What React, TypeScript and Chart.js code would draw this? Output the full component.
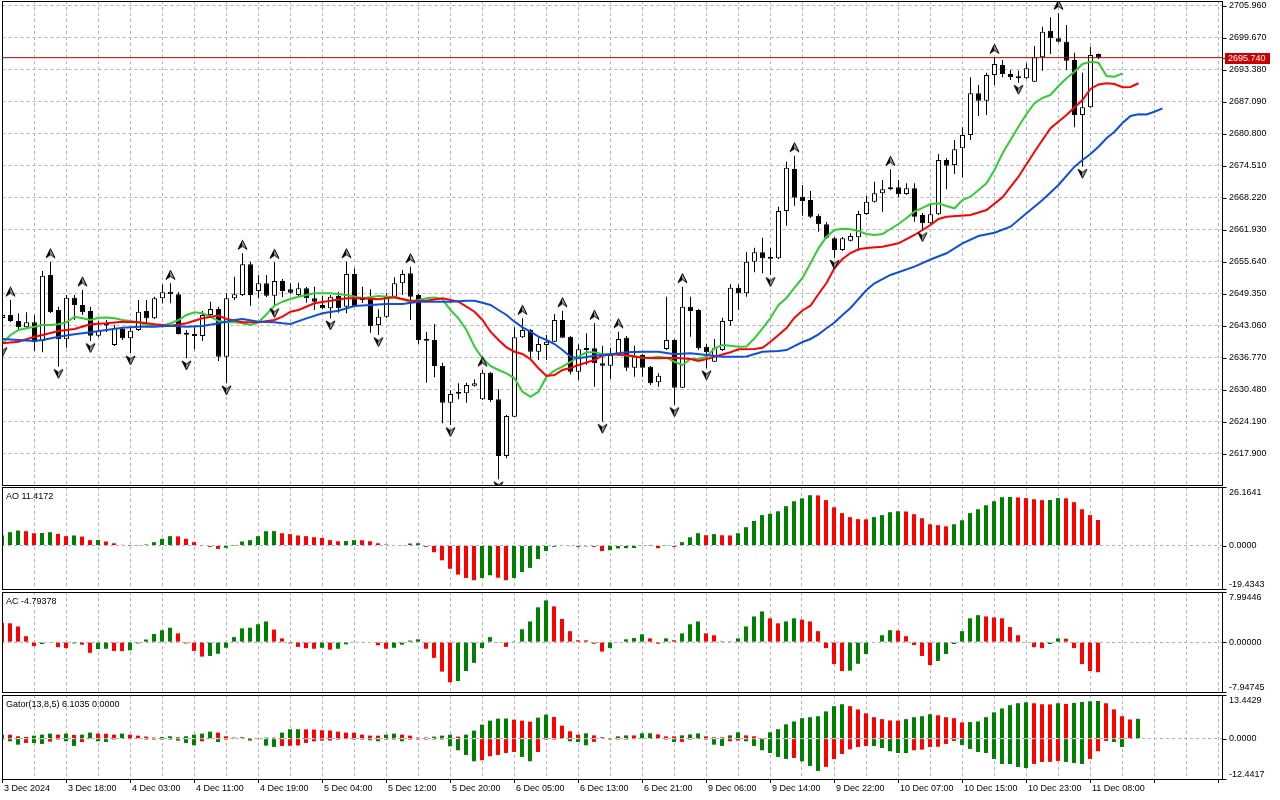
import React, { useEffect, useRef } from 'react';
import { Chart, registerables } from 'chart.js';

Chart.register(...registerables);

const FONT = '"Liberation Sans", Arial, sans-serif';
const GRID = '#b8b2c0';
const BAR_GREEN = '#008000';
const BAR_RED = '#ff0000';
const LIPS_COLOR = '#32cd32';
const TEETH_COLOR = '#ff0000';
const JAW_COLOR = '#0c50dc';

// ---------- price data (H1 candles) ----------
const OPEN = [2644.57, 2645.16, 2643.99, 2642.75, 2643.73, 2640.06, 2653.03, 2646.15, 2640.39, 2648.56,
  2647.13, 2645.95, 2641.10, 2643.10, 2639.27, 2642.41, 2640.58, 2642.22, 2645.95, 2644.52,
  2648.45, 2649.74, 2649.23, 2641.43, 2641.43, 2641.04, 2645.16, 2646.34, 2636.97, 2648.45,
  2649.09, 2655.13, 2649.88, 2651.39, 2648.96, 2651.85, 2650.21, 2649.09, 2650.41, 2648.45,
  2647.13, 2646.48, 2648.90, 2646.79, 2653.22, 2648.70, 2648.64, 2643.20, 2644.83, 2648.76,
  2651.39, 2653.36, 2649.09, 2640.39, 2640.25, 2635.14, 2627.93, 2629.70, 2629.77, 2631.27,
  2628.59, 2633.82, 2628.59, 2617.45, 2625.17, 2640.78, 2642.22, 2637.95, 2639.27, 2639.92,
  2644.18, 2640.90, 2634.02, 2638.62, 2638.62, 2635.67, 2635.20, 2637.30, 2640.70, 2634.81,
  2637.30, 2635.00, 2631.93, 2638.48, 2640.25, 2630.87, 2646.79, 2646.15, 2638.93, 2635.99,
  2638.28, 2643.99, 2650.53, 2649.43, 2655.64, 2657.49, 2656.37, 2656.31, 2665.61, 2673.86,
  2668.42, 2667.77, 2664.68, 2662.99, 2660.24, 2657.94, 2659.77, 2660.44, 2665.02, 2667.43,
  2669.08, 2669.87, 2670.26, 2668.95, 2670.07, 2664.82, 2663.19, 2664.96, 2675.63, 2674.65,
  2677.93, 2680.55, 2688.74, 2687.29, 2692.34, 2694.30, 2692.53, 2692.00, 2691.69, 2691.02,
  2695.82, 2701.05, 2699.55, 2698.88, 2695.29, 2684.48, 2685.99, 2696.47];

const HIGH = [2645.56, 2648.11, 2645.50, 2645.69, 2645.16, 2653.81, 2655.64, 2646.79, 2649.09, 2649.09,
  2650.08, 2646.79, 2643.99, 2644.18, 2643.20, 2642.81, 2642.81, 2648.11, 2648.11, 2648.76,
  2651.20, 2651.39, 2649.69, 2642.22, 2642.86, 2645.95, 2647.78, 2646.79, 2649.43, 2652.69,
  2657.29, 2655.58, 2653.03, 2653.03, 2655.52, 2652.24, 2651.39, 2651.51, 2650.67, 2650.73,
  2648.90, 2649.09, 2649.74, 2655.64, 2654.34, 2650.73, 2650.21, 2646.29, 2649.43, 2652.57,
  2654.01, 2654.66, 2649.29, 2641.88, 2643.40, 2635.79, 2630.42, 2631.74, 2631.86, 2632.53,
  2634.35, 2633.96, 2630.56, 2625.51, 2642.75, 2644.52, 2642.41, 2640.78, 2641.23, 2645.36,
  2646.01, 2641.04, 2639.40, 2641.57, 2643.53, 2639.13, 2638.73, 2641.88, 2641.04, 2639.13,
  2637.50, 2635.14, 2633.70, 2648.76, 2640.45, 2650.73, 2648.76, 2646.34, 2639.46, 2640.45,
  2644.63, 2651.20, 2651.20, 2657.49, 2658.39, 2660.36, 2658.27, 2666.45, 2675.30, 2676.48,
  2670.72, 2669.54, 2665.02, 2663.44, 2660.50, 2660.50, 2661.22, 2665.67, 2668.55, 2671.37,
  2671.70, 2673.80, 2671.70, 2671.05, 2671.05, 2665.21, 2666.79, 2676.81, 2676.02, 2679.56,
  2682.06, 2691.89, 2690.37, 2692.79, 2695.82, 2695.29, 2693.32, 2693.18, 2694.64, 2698.04,
  2701.83, 2703.68, 2704.47, 2702.17, 2696.72, 2692.79, 2697.90, 2696.56];

const LOW = [2639.27, 2643.79, 2642.41, 2642.41, 2638.09, 2637.83, 2645.56, 2634.97, 2638.73, 2644.18,
  2645.16, 2640.06, 2640.84, 2641.82, 2639.07, 2640.25, 2637.63, 2642.02, 2643.59, 2644.38,
  2647.46, 2647.46, 2641.33, 2636.65, 2638.42, 2640.06, 2644.97, 2636.12, 2631.74, 2648.11,
  2648.90, 2646.99, 2648.45, 2648.70, 2646.93, 2648.70, 2649.29, 2648.90, 2647.58, 2646.15,
  2646.34, 2644.52, 2645.62, 2645.50, 2646.74, 2647.52, 2641.68, 2641.23, 2644.57, 2648.60,
  2649.09, 2644.18, 2639.46, 2631.86, 2632.92, 2623.88, 2623.54, 2628.59, 2627.93, 2631.11,
  2628.46, 2628.06, 2612.87, 2617.00, 2625.11, 2640.64, 2636.71, 2636.32, 2636.32, 2639.86,
  2640.64, 2633.51, 2632.39, 2635.34, 2631.07, 2624.19, 2632.59, 2637.10, 2634.16, 2633.04,
  2633.04, 2631.40, 2631.07, 2638.28, 2627.47, 2630.82, 2640.90, 2638.28, 2634.69, 2635.93,
  2638.09, 2643.06, 2646.15, 2648.76, 2653.56, 2653.36, 2653.03, 2656.17, 2662.72, 2666.65,
  2664.68, 2664.23, 2661.54, 2660.10, 2656.43, 2657.74, 2659.61, 2657.80, 2664.82, 2667.28,
  2665.47, 2669.67, 2668.30, 2668.75, 2663.50, 2661.87, 2663.05, 2664.82, 2669.87, 2672.88,
  2672.23, 2679.56, 2684.28, 2684.48, 2690.37, 2691.89, 2691.35, 2690.82, 2691.55, 2690.96,
  2693.18, 2696.47, 2698.73, 2693.32, 2682.06, 2674.31, 2685.85, 2695.42];

const CLOSE = [2645.16, 2643.99, 2642.75, 2643.73, 2639.80, 2652.89, 2645.69, 2640.39, 2648.56, 2647.13,
  2645.69, 2641.10, 2642.02, 2643.20, 2642.67, 2640.58, 2642.08, 2645.81, 2644.52, 2648.45,
  2649.63, 2649.23, 2641.43, 2641.27, 2641.04, 2645.16, 2646.34, 2636.97, 2648.45, 2649.23,
  2655.13, 2649.09, 2651.39, 2648.96, 2651.85, 2649.88, 2649.55, 2650.41, 2648.45, 2647.78,
  2646.48, 2648.76, 2646.48, 2653.22, 2646.93, 2648.11, 2643.00, 2644.83, 2648.76, 2651.39,
  2653.22, 2648.76, 2640.25, 2640.11, 2635.14, 2627.93, 2629.64, 2629.83, 2631.40, 2631.74,
  2633.82, 2628.46, 2617.45, 2625.31, 2640.78, 2642.22, 2637.95, 2639.46, 2639.92, 2644.18,
  2640.70, 2634.02, 2638.42, 2638.28, 2635.67, 2635.20, 2637.30, 2640.45, 2634.81, 2636.97,
  2634.81, 2631.74, 2633.23, 2640.25, 2630.87, 2646.79, 2645.95, 2638.62, 2637.83, 2638.62,
  2643.99, 2650.53, 2649.43, 2655.64, 2657.49, 2656.31, 2656.21, 2665.61, 2674.12, 2668.22,
  2667.57, 2664.49, 2662.99, 2660.36, 2657.94, 2660.24, 2660.69, 2665.02, 2667.43, 2669.08,
  2669.87, 2670.26, 2668.89, 2670.07, 2664.49, 2663.19, 2664.96, 2675.63, 2674.51, 2677.73,
  2680.55, 2688.74, 2687.29, 2692.34, 2694.50, 2692.53, 2691.89, 2691.69, 2693.66, 2695.82,
  2700.85, 2699.55, 2698.88, 2695.15, 2684.48, 2685.99, 2696.27, 2695.74];

const CURRENT_PRICE = 2695.74;

// Alligator lines: [bar, price]
const LIPS: [number, number][] = [[0, 2639.60], [1, 2641.23], [2, 2642.22], [3, 2642.55], [4, 2642.86], [5, 2643.20],
  [6, 2643.20], [7, 2643.33], [8, 2643.73], [9, 2644.83], [10, 2644.51], [11, 2644.18], [12, 2644.63], [13, 2644.67],
  [14, 2644.51], [15, 2644.18], [16, 2643.98], [17, 2643.73], [18, 2643.20], [19, 2643.06], [20, 2643.06],
  [21, 2643.53], [22, 2644.18], [23, 2645.16], [24, 2645.69], [25, 2645.50], [26, 2644.83], [27, 2643.98],
  [28, 2643.73], [29, 2643.73], [30, 2643.53], [31, 2643.20], [32, 2643.73], [33, 2645.30], [34, 2646.99],
  [35, 2647.78], [36, 2648.31], [37, 2648.76], [39, 2649.43], [41, 2649.43], [43, 2649.09], [45, 2648.45],
  [47, 2648.90], [49, 2648.64], [51, 2647.78], [53, 2648.45], [54, 2648.60], [55, 2648.25], [56, 2646.15],
  [57, 2644.51], [58, 2642.22], [59, 2638.93], [60, 2636.65], [61, 2635.14], [62, 2634.35], [63, 2633.70],
  [64, 2632.72], [65, 2630.09], [66, 2629.10], [67, 2630.09], [68, 2633.04], [69, 2634.22], [70, 2635.00],
  [71, 2635.93], [72, 2636.97], [73, 2637.83], [74, 2637.83], [75, 2637.44], [76, 2637.44], [77, 2637.44],
  [78, 2637.16], [79, 2636.97], [80, 2636.77], [81, 2636.77], [82, 2636.97], [83, 2636.77], [84, 2635.98],
  [85, 2635.34], [86, 2636.51], [87, 2636.51], [88, 2636.97], [89, 2638.62], [90, 2639.27], [91, 2639.13],
  [92, 2638.93], [93, 2638.97], [94, 2640.58], [95, 2642.55], [96, 2644.57], [97, 2647.13], [98, 2648.51],
  [99, 2650.53], [100, 2652.44], [101, 2655.33], [102, 2658.27], [103, 2660.55], [104, 2661.87], [105, 2662.13],
  [106, 2662.01], [107, 2661.67], [108, 2661.08], [109, 2660.89], [110, 2661.08], [111, 2662.07], [112, 2663.05],
  [113, 2664.23], [114, 2665.47], [115, 2666.20], [116, 2666.98], [117, 2667.12], [118, 2666.59], [119, 2666.14],
  [120, 2667.77], [121, 2668.42], [122, 2669.73], [123, 2671.05], [124, 2673.66], [125, 2676.95], [126, 2679.56],
  [127, 2682.18], [128, 2684.67], [129, 2686.78], [130, 2687.82], [131, 2688.41], [132, 2690.18], [133, 2691.69],
  [134, 2692.99], [135, 2694.50], [136, 2694.95], [137, 2694.76], [138, 2692.14], [139, 2692.00], [140, 2692.67]];

const TEETH: [number, number][] = [[0, 2639.60], [2, 2639.92], [4, 2640.90], [5, 2641.23], [7, 2642.02], [9, 2642.41],
  [11, 2643.33], [13, 2643.53], [15, 2643.85], [17, 2643.73], [19, 2643.33], [21, 2643.06], [23, 2643.53],
  [25, 2644.51], [27, 2645.07], [28, 2644.38], [30, 2643.73], [32, 2643.73], [34, 2644.18], [35, 2644.83],
  [36, 2645.81], [37, 2646.15], [39, 2647.46], [41, 2647.98], [43, 2648.45], [45, 2648.45], [47, 2648.25],
  [49, 2648.64], [51, 2647.98], [53, 2647.98], [55, 2648.45], [57, 2647.78], [59, 2645.81], [60, 2644.18],
  [61, 2641.88], [62, 2640.25], [63, 2638.81], [64, 2637.95], [65, 2637.50], [66, 2636.46], [67, 2634.69],
  [68, 2633.17], [69, 2633.37], [70, 2634.35], [71, 2634.75], [72, 2635.34], [74, 2636.32], [75, 2637.16],
  [76, 2637.44], [78, 2637.30], [80, 2636.77], [82, 2636.65], [84, 2636.77], [86, 2636.51], [87, 2636.12],
  [88, 2636.51], [89, 2636.97], [91, 2637.83], [92, 2638.42], [94, 2638.48], [95, 2638.74], [96, 2639.92],
  [97, 2641.23], [98, 2642.61], [99, 2644.63], [100, 2646.05], [101, 2646.99], [102, 2649.29], [103, 2651.45],
  [104, 2654.40], [105, 2656.17], [106, 2657.35], [107, 2658.08], [108, 2658.33], [110, 2658.59], [112, 2659.26],
  [114, 2660.89], [115, 2661.87], [116, 2662.85], [117, 2664.03], [118, 2664.49], [121, 2664.82], [123, 2665.80],
  [125, 2668.30], [127, 2672.35], [129, 2677.26], [131, 2681.86], [133, 2684.48], [135, 2687.42], [136, 2689.59],
  [137, 2690.47], [138, 2690.71], [139, 2690.57], [140, 2689.92], [141, 2689.98], [142, 2690.71]];

const JAW: [number, number][] = [[0, 2640.45], [2, 2640.25], [4, 2640.05], [5, 2640.25], [7, 2640.90], [9, 2641.37],
  [11, 2641.76], [13, 2642.22], [15, 2642.67], [17, 2642.86], [19, 2642.86], [21, 2643.06], [23, 2642.86],
  [25, 2643.00], [27, 2643.53], [29, 2644.18], [30, 2644.38], [32, 2643.85], [34, 2643.73], [35, 2643.53],
  [36, 2643.39], [38, 2644.51], [40, 2645.50], [42, 2646.01], [44, 2646.93], [46, 2647.13], [48, 2647.33],
  [50, 2647.33], [52, 2647.78], [54, 2647.78], [56, 2647.78], [58, 2647.98], [59, 2647.98], [60, 2647.58],
  [61, 2647.13], [62, 2646.15], [63, 2645.16], [64, 2643.85], [65, 2642.75], [66, 2641.88], [67, 2640.90],
  [68, 2640.25], [69, 2639.46], [70, 2638.28], [71, 2636.97], [72, 2636.65], [74, 2637.16], [76, 2637.44],
  [78, 2637.83], [80, 2637.95], [82, 2637.95], [84, 2637.44], [86, 2637.64], [88, 2637.30], [90, 2636.97],
  [92, 2636.97], [93, 2637.01], [95, 2637.95], [97, 2638.09], [98, 2638.28], [100, 2639.86], [101, 2640.45],
  [102, 2641.37], [103, 2642.55], [104, 2643.69], [105, 2645.16], [106, 2646.54], [108, 2650.08], [109, 2651.39],
  [111, 2653.03], [114, 2654.66], [116, 2656.07], [118, 2657.29], [120, 2659.26], [122, 2660.69], [124, 2661.34],
  [126, 2662.52], [128, 2665.15], [130, 2667.77], [132, 2670.72], [134, 2674.31], [135, 2675.63], [136, 2676.81],
  [137, 2678.24], [138, 2679.90], [139, 2681.19], [140, 2682.90], [141, 2684.28], [142, 2684.61], [143, 2684.57],
  [144, 2685.12], [145, 2685.79]];

const UP_FRACTALS = [1, 6, 10, 21, 30, 34, 43, 51, 60, 65, 70, 74, 77, 85, 99, 111, 124, 132];
const DOWN_FRACTALS = [0, 7, 11, 16, 23, 28, 34, 41, 47, 56, 62, 75, 84, 88, 96, 104, 115, 127, 135];

// ---------- indicator data ----------
const AO = [4.47, 5.96, 6.71, 6.41, 5.51, 5.6, 5.96, 5.2, 4.2, 4.5,
  4.0, 2.4, 2.45, 1.8, 1.0, 0.3, 0.05, -0.1, 0.45, 1.5,
  3.0, 4.2, 4.1, 3.0, 1.5, 0.15, -0.6, -1.5, -1.0, 0.05,
  1.8, 2.4, 4.2, 6.4, 6.45, 5.5, 5.1, 4.5, 4.2, 3.7,
  3.4, 2.4, 1.9, 2.0, 2.4, 2.35, 1.9, 1.0, 0.45, 0.0,
  0.15, 0.9, 1.05, -0.6, -3.0, -6.6, -10.4, -13.0, -14.5, -15.5,
  -14.5, -13.3, -14.4, -15.5, -14.5, -11.9, -10.0, -6.0, -2.5, -0.6,
  -0.2, -0.3, -0.6, -0.4, -0.6, -2.5, -2.1, -1.3, -1.2, -1.1,
  -0.1, -0.05, -1.2, -0.1, -0.6, 1.5, 3.7, 5.5, 4.6, 5.1,
  4.6, 4.5, 5.5, 8.2, 11.0, 13.6, 14.2, 15.3, 17.6, 19.8,
  21.1, 22.5, 22.4, 20.3, 17.1, 14.5, 12.7, 11.8, 11.7, 12.7,
  13.6, 14.9, 15.3, 15.2, 14.0, 12.2, 9.5, 9.1, 8.6, 9.5,
  11.3, 14.5, 16.2, 18.0, 19.8, 21.6, 21.7, 21.5, 21.2, 20.7,
  20.3, 20.35, 21.2, 21.1, 19.4, 16.2, 13.6, 11.4172];

const AC = [3.06, 3.0, 2.5, 0.95, -0.63, -0.3, -0.1, -0.8, -0.95, -0.2,
  -0.4, -1.7, -1.1, -1.05, -1.4, -1.42, -1.3, -0.2, 0.42, 1.3,
  1.9, 2.3, 1.4, -0.2, -1.4, -2.3, -2.2, -1.85, -0.9, 0.8,
  2.2, 2.3, 2.85, 3.3, 2.0, 0.6, -0.2, -0.75, -0.95, -1.05,
  -0.9, -1.2, -1.05, -0.35, 0.05, 0.1, 0.0, -0.5, -1.05, -0.9,
  -0.4, 0.25, 0.45, -1.05, -2.5, -4.7, -6.4, -6.2, -4.6, -3.3,
  -0.95, 0.8, -0.05, -0.75, 0.05, 2.05, 3.3, 5.55, 6.65, 5.7,
  3.7, 1.75, 0.3, 0.28, -0.25, -1.5, -0.95, 0.1, 0.45, 0.65,
  1.25, 0.6, -0.25, 0.6, 0.3, 1.4, 2.85, 3.3, 1.4, 1.1,
  0.15, 0.02, 0.6, 2.5, 4.1, 4.9, 3.8, 3.0, 3.3, 3.8,
  3.6, 3.3, 1.75, -0.95, -3.5, -4.6, -4.55, -3.45, -1.9, 0.0,
  1.1, 1.9, 1.85, 0.95, -0.45, -2.2, -3.65, -3.0, -1.9, -0.3,
  1.75, 3.8, 4.3, 4.1, 3.95, 3.8, 2.4, 1.1, 0.1, -0.8,
  -0.95, -0.3, 0.6, 0.55, -0.95, -3.5, -4.6, -4.79378];

const GATOR_UP = [1.23, 1.2, 0.72, 0.5, 0.92, 1.23, 1.54, 1.23, 1.54, 1.13,
  1.23, 1.85, 1.54, 1.5, 1.23, 1.54, 1.23, 0.92, 0.62, 0.31,
  0.5, 0.72, 0.41, 0.72, 1.23, 1.54, 2.16, 1.85, 0.72, 0.31,
  0.41, 0.05, 0.0, 0.31, 0.3, 1.85, 2.88, 2.9, 2.85, 2.8,
  2.57, 2.5, 2.16, 1.85, 1.8, 1.23, 0.92, 0.9, 1.23, 1.54,
  1.23, 0.92, 0.31, 0.35, 0.62, 0.92, 1.23, 0.62, 1.23, 2.46,
  4.31, 5.55, 6.16, 6.2, 5.85, 5.55, 5.24, 6.47, 7.39, 6.68,
  4.0, 2.26, 1.23, 1.64, 1.0, 0.4, 0.2, 0.7, 1.0, 0.98,
  1.64, 1.65, 1.3, 0.7, 0.69, 1.0, 1.3, 1.6, 0.7, 0.4,
  0.39, 1.0, 1.95, 1.0, 0.7, 0.05, 1.95, 2.9, 4.4, 5.3,
  6.3, 6.6, 6.9, 8.4, 10.0, 10.6, 10.0, 9.0, 7.8, 6.6,
  6.0, 5.6, 5.55, 6.0, 6.6, 6.9, 7.5, 7.2, 6.6, 6.3,
  5.0, 5.1, 5.3, 6.6, 8.1, 9.3, 10.3, 10.9, 11.2, 10.9,
  10.6, 10.55, 10.9, 10.7, 11.0, 11.3, 11.5, 11.6, 10.9, 9.0,
  6.9, 5.9, 6.1035];

const GATOR_DOWN = [-0.3, -0.82, -1.85, -1.33, -1.35, -1.64, -0.92, -0.31, -0.82, -2.26,
  -1.03, -0.05, -0.82, -1.03, -0.31, 0, -0.05, -0.1, -0.31, -0.3,
  -0.3, -0.31, -0.62, -1.33, -2.05, -0.82, -0.05, -1.03, -0.31, -0.1,
  0, -0.62, -0.05, -2.16, -2.57, -2.26, -2.2, -2.1, -1.33, -0.82,
  -0.62, -0.6, -0.31, -0.05, -0.31, -0.3, -0.51, -0.82, -0.31, -0.3,
  -0.82, -0.31, -0.3, -0.3, -0.3, -0.3, -2.36, -3.6, -5.03, -6.98,
  -6.68, -5.44, -5.03, -4.42, -4.11, -5.65, -6.98, -4.11, -0.31, -0.3,
  0, -0.82, -1.03, -2.05, -1.0, 0, -0.31, -0.3, -0.3, -0.05,
  0, 0, 0, -0.31, -1.03, -1.0, -0.31, -0.05, -0.31, -1.85,
  -2.26, -0.82, -0.62, -0.82, -2.26, -3.6, -4.42, -5.65, -6.26, -5.96,
  -7.0, -8.4, -9.96, -8.7, -6.3, -4.72, -3.29, -2.57, -2.26, -2.3,
  -2.88, -3.9, -4.42, -4.45, -3.6, -3.39, -2.57, -2.5, -1.64, -0.72,
  -1.95, -3.18, -4.11, -4.42, -6.26, -7.8, -7.85, -8.73, -9.04, -7.8,
  -7.19, -7.15, -6.88, -7.19, -7.5, -7.8, -6.26, -3.9, -0.72, -1.03,
  -2.57];

// ---------- axes ----------
const PRICE_TICKS = [2617.90, 2624.19, 2630.48, 2636.77, 2643.06, 2649.35, 2655.64, 2661.93,
  2668.22, 2674.51, 2680.80, 2687.09, 2693.38, 2699.67, 2705.96];
const PRICE_MIN = 2611.75;
const PRICE_MAX = 2706.88;
const AO_RANGE = [-19.4343, 26.1641];
const AC_RANGE = [-7.94745, 7.99446];
const GATOR_RANGE = [-12.4417, 13.4429];
const TIME_LABELS = ['3 Dec 2024', '3 Dec 18:00', '4 Dec 03:00', '4 Dec 11:00', '4 Dec 19:00', '5 Dec 04:00',
  '5 Dec 12:00', '5 Dec 20:00', '6 Dec 05:00', '6 Dec 13:00', '6 Dec 21:00', '9 Dec 06:00', '9 Dec 14:00',
  '9 Dec 22:00', '10 Dec 07:00', '10 Dec 15:00', '10 Dec 23:00', '11 Dec 08:00'];
const GATOR_TITLE_LOWER = '0.0000';

type AxisLabel = { v: number; text: string; pos: 'top' | 'mid' | 'bottom' };

function panePlugin(id: string, labels: AxisLabel[], title: string | null, price: number | null) {
  return {
    id,
    afterDraw(chart: any) {
      const { ctx, chartArea: a } = chart;
      const ys = chart.scales.y;
      const L = Math.floor(a.left) + 0.5;
      const R = Math.floor(a.right) + 0.5;
      const T = Math.floor(a.top) + 0.5;
      const B = Math.floor(a.bottom) + 0.5;
      ctx.save();
      ctx.strokeStyle = '#000';
      ctx.lineWidth = 1;
      ctx.setLineDash([]);
      ctx.strokeRect(L, T, R - L, B - T);
      ctx.font = `9px ${FONT}`;
      ctx.fillStyle = '#000';
      ctx.textAlign = 'left';
      ctx.textBaseline = 'middle';
      for (const lb of labels) {
        const py = ys.getPixelForValue(lb.v);
        const ty = Math.min(Math.max(Math.round(py), a.top), Math.floor(a.bottom)) + 0.5;
        ctx.beginPath();
        ctx.moveTo(R, ty);
        ctx.lineTo(R + 4, ty);
        ctx.stroke();
        const textY = lb.pos === 'top' ? py + 6 : lb.pos === 'bottom' ? py - 4.5 : py;
        ctx.fillText(lb.text, 1229, textY);
      }
      if (title) {
        ctx.fillText(title, 6, a.top + 9.5);
      }
      if (price !== null) {
        const py = ys.getPixelForValue(price);
        ctx.strokeStyle = '#b40000';
        ctx.beginPath();
        ctx.moveTo(R, Math.round(py) + 0.5);
        ctx.lineTo(1225, Math.round(py) + 0.5);
        ctx.stroke();
        ctx.fillStyle = '#cc0000';
        ctx.fillRect(1225, Math.round(py) - 5, 45, 11);
        ctx.fillStyle = '#fff';
        ctx.fillText(price.toFixed(3), 1228, py + 0.5);
      }
      ctx.restore();
    },
  };
}

function xScale(max: number, showLabels: boolean) {
  return {
    type: 'linear',
    position: 'bottom',
    min: 0,
    max,
    offset: false,
    afterBuildTicks: (s: any) => {
      const t: any[] = [];
      for (let v = 0; v <= max; v += 4) t.push({ value: v });
      s.ticks = t;
    },
    afterFit: (s: any) => {
      s.height = showLabels ? 21 : 0;
    },
    grid: {
      color: GRID,
      lineWidth: 1,
      offset: false,
      drawTicks: showLabels,
      tickLength: 4,
      tickColor: (c: any) => (c.tick && c.tick.value % 8 === 0 ? '#000' : 'rgba(0,0,0,0)'),
    },
    border: { display: false, dash: [3, 3] },
    ticks: {
      display: showLabels,
      autoSkip: false,
      maxRotation: 0,
      minRotation: 0,
      align: 'start',
      padding: 0,
      labelOffset: 2,
      color: '#000',
      font: { size: 9, family: FONT },
      callback: (v: number) => (v % 8 === 0 && TIME_LABELS[v / 8] !== undefined ? TIME_LABELS[v / 8] : ''),
    },
  };
}

function yScale(min: number, max: number, gridVals: number[]) {
  return {
    type: 'linear',
    position: 'right',
    min,
    max,
    afterBuildTicks: (s: any) => {
      s.ticks = gridVals.map((v) => ({ value: v }));
    },
    afterFit: (s: any) => {
      s.width = 58;
    },
    grid: { color: GRID, lineWidth: 1, drawTicks: false },
    border: { display: false, dash: [3, 3] },
    ticks: { display: false },
  };
}

function baseOptions(padding: any, xMax: number, showX: boolean, y: any) {
  return {
    responsive: false,
    maintainAspectRatio: false,
    animation: false,
    events: [],
    layout: { padding, autoPadding: false },
    plugins: { legend: { display: false }, tooltip: { enabled: false } },
    scales: { x: xScale(xMax, showX), y },
  };
}

function makeArrow(up: boolean): HTMLCanvasElement {
  const c = document.createElement('canvas');
  c.width = 11;
  c.height = 31;
  const g = c.getContext('2d') as CanvasRenderingContext2D;
  const cy = up ? 15.5 - 8.5 : 15.5 + 7;
  const dir = up ? 1 : -1;
  const tipY = cy - 4.5 * dir;
  const baseY = cy + 4.5 * dir;
  const notchY = baseY - 3 * dir;
  g.fillStyle = '#000';
  g.beginPath();
  g.moveTo(5.5, tipY);
  g.lineTo(1, baseY);
  g.lineTo(5.5, notchY);
  g.closePath();
  g.fill();
  g.fillStyle = '#9a9a9a';
  g.beginPath();
  g.moveTo(5.5, tipY);
  g.lineTo(10, baseY);
  g.lineTo(5.5, notchY);
  g.closePath();
  g.fill();
  g.strokeStyle = '#000';
  g.lineWidth = 1;
  g.beginPath();
  g.moveTo(5.5, tipY);
  g.lineTo(1, baseY);
  g.lineTo(5.5, notchY);
  g.lineTo(10, baseY);
  g.closePath();
  g.stroke();
  return c;
}

function histColors(vals: number[], first: string, useAbs: boolean) {
  return vals.map((v, i) => {
    if (i === 0) return first;
    const a = useAbs ? Math.abs(v) : v;
    const b = useAbs ? Math.abs(vals[i - 1]) : vals[i - 1];
    return a > b ? BAR_GREEN : BAR_RED;
  });
}

const MAIN_X_MAX = (1222 - 2.5) / 8;
const SUB_X_MAX = (1222 - 2) / 8;

export default function App() {
  const mainRef = useRef<HTMLCanvasElement>(null);
  const aoRef = useRef<HTMLCanvasElement>(null);
  const acRef = useRef<HTMLCanvasElement>(null);
  const gatorRef = useRef<HTMLCanvasElement>(null);

  useEffect(() => {
    Chart.defaults.font.family = FONT;
    Chart.defaults.font.size = 9;
    Chart.defaults.color = '#000';
    const upImg = makeArrow(true);
    const downImg = makeArrow(false);
    const idx = OPEN.map((_, i) => i);
    const charts: any[] = [];

    const mainCfg: any = {
      type: 'bar',
      data: {
        datasets: [
          {
            type: 'bar',
            data: idx.map((i) => ({ x: i, y: [LOW[i], HIGH[i]] })),
            backgroundColor: '#000',
            borderWidth: 0,
            barThickness: 1,
            grouped: false,
            inflateAmount: 0,
            order: 6,
          },
          {
            type: 'bar',
            data: idx.map((i) => ({ x: i, y: [OPEN[i], CLOSE[i]] })),
            backgroundColor: idx.map((i) => (CLOSE[i] >= OPEN[i] ? '#ffffff' : '#000000')),
            borderColor: '#000',
            borderWidth: 1,
            borderSkipped: false,
            barThickness: 5,
            minBarLength: 2,
            grouped: false,
            inflateAmount: 0,
            order: 5,
          },
          {
            type: 'line',
            data: [{ x: 0, y: CURRENT_PRICE }, { x: MAIN_X_MAX, y: CURRENT_PRICE }],
            borderColor: '#b40000',
            borderWidth: 1,
            pointRadius: 0,
            order: 4,
          },
          {
            type: 'line',
            data: JAW.map(([x, y]) => ({ x, y })),
            borderColor: JAW_COLOR,
            borderWidth: 2,
            pointRadius: 0,
            tension: 0,
            order: 3,
          },
          {
            type: 'line',
            data: TEETH.map(([x, y]) => ({ x, y })),
            borderColor: TEETH_COLOR,
            borderWidth: 2,
            pointRadius: 0,
            tension: 0,
            order: 3,
          },
          {
            type: 'line',
            data: LIPS.map(([x, y]) => ({ x, y })),
            borderColor: LIPS_COLOR,
            borderWidth: 2,
            pointRadius: 0,
            tension: 0,
            order: 3,
          },
          {
            type: 'scatter',
            data: UP_FRACTALS.map((i) => ({ x: i, y: HIGH[i] })),
            pointStyle: upImg,
            pointRadius: 5,
            clip: 0,
            order: 1,
          },
          {
            type: 'scatter',
            data: DOWN_FRACTALS.map((i) => ({ x: i, y: LOW[i] })),
            pointStyle: downImg,
            pointRadius: 5,
            clip: 0,
            order: 1,
          },
        ],
      },
      options: baseOptions({ left: 2.5, right: 0, top: 1, bottom: 315 }, MAIN_X_MAX, false,
        yScale(PRICE_MIN, PRICE_MAX, PRICE_TICKS)),
      plugins: [panePlugin('mainPane', PRICE_TICKS.map((v) => ({ v, text: v.toFixed(3), pos: 'mid' as const })), null, CURRENT_PRICE)],
    };
    charts.push(new Chart(mainRef.current as HTMLCanvasElement, mainCfg));

    const histCfg = (vals: number[], first: string, range: number[], pad: any, digits: number, title: string, showX: boolean) => ({
      type: 'bar',
      data: {
        datasets: [
          {
            data: vals.map((v, i) => ({ x: i, y: v })),
            backgroundColor: histColors(vals, first, false),
            borderWidth: 0,
            barThickness: 4,
            grouped: false,
            inflateAmount: 0,
          },
        ],
      },
      options: baseOptions(pad, SUB_X_MAX, showX, yScale(range[0], range[1], [0])),
      plugins: [panePlugin('pane' + title.slice(0, 2), [
        { v: range[1], text: range[1].toFixed(digits), pos: 'top' },
        { v: 0, text: (0).toFixed(digits), pos: 'mid' },
        { v: range[0], text: range[0].toFixed(digits), pos: 'bottom' },
      ], title, null)],
    });

    charts.push(new Chart(aoRef.current as HTMLCanvasElement, histCfg(AO, BAR_GREEN, AO_RANGE,
      { left: 2, right: 0, top: 487, bottom: 211 }, 4, `AO ${AO[AO.length - 1].toFixed(4)}`, false) as any));
    charts.push(new Chart(acRef.current as HTMLCanvasElement, histCfg(AC, BAR_RED, AC_RANGE,
      { left: 2, right: 0, top: 592, bottom: 108 }, 5, `AC ${AC[AC.length - 1].toFixed(5)}`, false) as any));

    const gatorCfg: any = {
      type: 'bar',
      data: {
        datasets: [
          {
            data: GATOR_UP.map((v, i) => ({ x: i, y: v })),
            backgroundColor: histColors(GATOR_UP, BAR_GREEN, true),
            borderWidth: 0,
            barThickness: 4,
            grouped: false,
            inflateAmount: 0,
          },
          {
            data: GATOR_DOWN.map((v, i) => ({ x: i, y: v })),
            backgroundColor: histColors(GATOR_DOWN, BAR_RED, true),
            borderWidth: 0,
            barThickness: 4,
            grouped: false,
            inflateAmount: 0,
          },
        ],
      },
      options: baseOptions({ left: 2, right: 0, top: 695, bottom: 0 }, SUB_X_MAX, true,
        yScale(GATOR_RANGE[0], GATOR_RANGE[1], [0])),
      plugins: [panePlugin('gatorPane', [
        { v: GATOR_RANGE[1], text: GATOR_RANGE[1].toFixed(4), pos: 'top' },
        { v: 0, text: (0).toFixed(4), pos: 'mid' },
        { v: GATOR_RANGE[0], text: GATOR_RANGE[0].toFixed(4), pos: 'bottom' },
      ], `Gator(13,8,5) ${GATOR_UP[GATOR_UP.length - 1].toFixed(4)} ${GATOR_TITLE_LOWER}`, null)],
    };
    charts.push(new Chart(gatorRef.current as HTMLCanvasElement, gatorCfg));

    return () => {
      charts.forEach((c) => c.destroy());
    };
  }, []);

  const cs: React.CSSProperties = { position: 'absolute', left: 0, top: 0, width: 1280, height: 800 };
  return (
    <div style={{ position: 'fixed', left: 0, top: 0, width: 1280, height: 800, background: '#fff', overflow: 'hidden' }}>
      <canvas ref={mainRef} width={1280} height={800} style={cs} />
      <canvas ref={aoRef} width={1280} height={800} style={cs} />
      <canvas ref={acRef} width={1280} height={800} style={cs} />
      <canvas ref={gatorRef} width={1280} height={800} style={cs} />
    </div>
  );
}
